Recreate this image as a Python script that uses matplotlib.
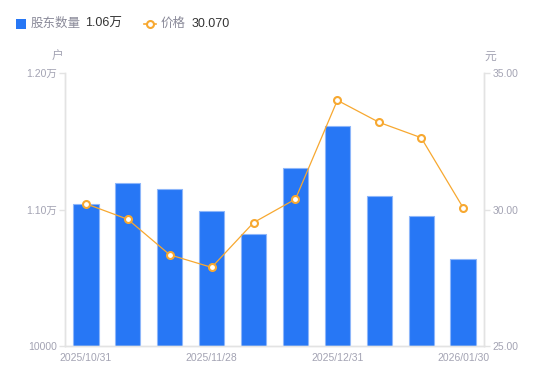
import matplotlib
matplotlib.use("Agg")
import matplotlib.pyplot as plt
from matplotlib.lines import Line2D
from matplotlib.patches import Rectangle

plt.rcParams['font.family'] = ['Liberation Sans', 'Noto Sans CJK SC', 'DejaVu Sans']

dates = ["2025/10/31", "2025/11/07", "2025/11/14", "2025/11/28", "2025/12/05",
         "2025/12/19", "2025/12/31", "2026/01/09", "2026/01/16", "2026/01/30"]
holders = [11038, 11194, 11150, 10987, 10820, 11304, 11609, 11097, 10955, 10640]
prices = [30.21, 29.64, 28.34, 27.88, 29.52, 30.38, 34.00, 33.19, 32.63, 30.07]
xtick_idx = [0, 3, 6, 9]
left_ticks = [10000, 11000, 12000]
left_labels = ["10000", "1.10万", "1.20万"]
right_ticks = [25, 30, 35]
right_labels = ["25.00", "30.00", "35.00"]

BLUE = "#2777F5"
ORANGE = "#F7A830"
GRAY = "#A3A3B3"
AXIS = "#E3E3E3"

W, H = 550, 381
fig = plt.figure(figsize=(5.5, 3.81), dpi=100)
ax = fig.add_axes([65 / W, 1 - 346 / H, (484 - 65) / W, (346 - 73) / H])
ax2 = ax.twinx()

x = list(range(len(dates)))
ax.bar(x, holders, width=0.6, color=BLUE, edgecolor="#8DB6FA", linewidth=0.8, zorder=2)
ax.set_xlim(-0.5, len(dates) - 0.5)
ax.set_ylim(10000, 12000)
ax.set_yticks(left_ticks)
ax.set_yticklabels(left_labels)
ax.set_xticks(xtick_idx)
ax.set_xticklabels([dates[i] for i in xtick_idx])

ax2.plot(x, prices, color=ORANGE, linewidth=0.9, marker="o", markersize=5,
         markerfacecolor="white", markeredgecolor=ORANGE, markeredgewidth=1.5, zorder=3)
ax2.set_ylim(25, 35)
ax2.set_yticks(right_ticks)
ax2.set_yticklabels(right_labels)

for a in (ax, ax2):
    for s in a.spines.values():
        s.set_color(AXIS)
        s.set_linewidth(1)
    a.spines['top'].set_visible(False)
    a.tick_params(colors=AXIS, labelcolor=GRAY, labelsize=7.5, length=4, width=1, pad=2)
ax.tick_params(axis='x', length=0, pad=5)
ax2.tick_params(axis='x', length=0)

fig.text(57 / W, 1 - 57 / H, "户", color=GRAY, fontsize=8.5, ha='center', va='center')
fig.text(490 / W, 1 - 57 / H, "元", color=GRAY, fontsize=8.5, ha='center', va='center')

# legend
fig.patches.append(Rectangle((16 / W, 1 - 29 / H), 10 / W, 10 / H, transform=fig.transFigure,
                             facecolor=BLUE, edgecolor='none'))
fig.text(31 / W, 1 - 24 / H, "股东数量", color="#8A8A99", fontsize=9, va='center')
fig.text(85 / W, 1 - 24 / H, f"{holders[-1] / 10000:.2f}万", color="#333333", fontsize=9, va='center')
fig.lines.append(Line2D([144 / W, 156 / W], [1 - 24 / H, 1 - 24 / H], transform=fig.transFigure,
                        color=ORANGE, linewidth=1.2, marker='o', markevery=[0], markersize=0))
fig.lines.append(Line2D([150 / W], [1 - 24 / H], transform=fig.transFigure, color=ORANGE,
                        marker='o', markersize=5, markerfacecolor='white', markeredgewidth=1.5))
fig.text(161 / W, 1 - 24 / H, "价格", color="#8A8A99", fontsize=9, va='center')
fig.text(192 / W, 1 - 24 / H, f"{prices[-1]:.3f}", color="#333333", fontsize=9, va='center')

fig.savefig("out.png", dpi=100)
